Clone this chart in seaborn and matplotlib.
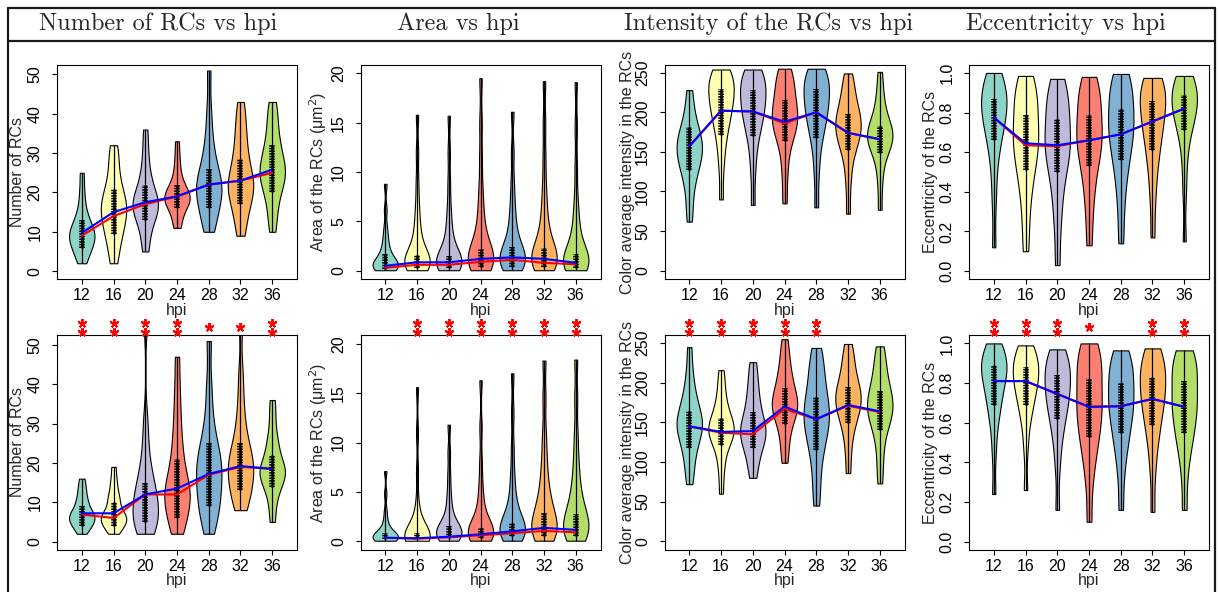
import numpy as np
import pandas as pd
import matplotlib
matplotlib.use("Agg")
import matplotlib.pyplot as plt
import matplotlib.transforms as mtransforms
from matplotlib.lines import Line2D
import seaborn as sns

hpi = ["12", "16", "20", "24", "28", "32", "36"]
set3 = ["#8DD3C7", "#FFFFB3", "#BEBADA", "#FB8072", "#80B1D3", "#FDB462", "#B3DE69"]

# ---------------------------
# Top row: values (roughly quantile-spaced)
# ---------------------------
count_top = [
    [2, 3.5, 5, 6, 7, 7.5, 8.5, 9, 9.5, 10, 11, 12, 13, 14.5, 17, 20.5, 25],
    [2, 5, 8, 9.5, 11, 12.5, 14, 15, 16, 17, 18, 19.5, 21, 23, 26, 29, 32],
    [5, 8, 11, 13, 14, 15, 16, 17, 17.5, 18, 19, 20.5, 22, 24, 27, 31, 36],
    [11, 12.5, 14.5, 16, 17, 17.5, 18, 18.5, 19, 19.5, 20, 21, 22, 23.5, 26, 29, 33],
    [10, 12, 14, 16, 18, 19, 20, 21, 22, 23, 24, 26, 28, 31, 35, 41, 51],
    [9, 12, 15, 17, 18.5, 20, 21, 22.5, 23, 24, 26, 28.5, 30, 33, 36, 39, 43],
    [10, 14, 17, 20, 21.5, 23, 24, 25, 26, 27, 28.5, 30, 32, 34, 37, 40, 43],
]
count_top_q1 = [6, 9.5, 13, 16, 16, 17, 20]
count_top_q3 = [13, 21, 22, 22, 26, 28.5, 32]
count_top_median = [9, 14, 17, 19, 22, 23, 25]
count_top_mean = [9.7, 15, 17.5, 19, 22, 23, 25.8]

area_top = [
    [0.05, 0.1, 0.2, 0.3, 0.4, 0.5, 0.6, 0.75, 0.9, 1.1, 1.3, 1.7, 2.1, 2.7, 3.4, 4.4, 6.2, 8.8],
    [0.05, 0.15, 0.3, 0.45, 0.6, 0.75, 0.9, 1.05, 1.2, 1.4, 1.6, 2.0, 2.6, 3.3, 4.2, 5.3, 6.8, 9, 12, 15.8],
    [0.05, 0.15, 0.3, 0.45, 0.6, 0.75, 0.9, 1.0, 1.2, 1.35, 1.5, 1.9, 2.5, 3.2, 4.1, 5.2, 6.7, 9, 12, 15.7],
    [0.05, 0.2, 0.4, 0.6, 0.8, 1.0, 1.2, 1.45, 1.7, 1.95, 2.2, 2.7, 3.4, 4.3, 5.4, 6.8, 8.6, 11.5, 15, 19.5],
    [0.05, 0.2, 0.4, 0.6, 0.85, 1.1, 1.3, 1.55, 1.8, 2.1, 2.4, 2.9, 3.6, 4.5, 5.6, 7, 9, 12, 16.1],
    [0.05, 0.2, 0.4, 0.6, 0.8, 1.0, 1.25, 1.5, 1.75, 2.0, 2.3, 2.8, 3.5, 4.4, 5.5, 6.9, 8.8, 11.6, 15, 19.2],
    [0.05, 0.15, 0.3, 0.45, 0.6, 0.8, 0.95, 1.1, 1.3, 1.5, 1.7, 2.1, 2.8, 3.6, 4.6, 5.8, 7.5, 10.5, 14.5, 19.1],
]
area_top_q1 = [0.2, 0.3, 0.3, 0.4, 0.4, 0.4, 0.3]
area_top_q3 = [1.7, 1.6, 1.5, 2.2, 2.4, 2.3, 1.7]
area_top_median = [0.3, 0.6, 0.6, 0.9, 1.1, 0.8, 0.65]
area_top_mean = [0.5, 0.85, 0.85, 1.2, 1.35, 1.2, 0.8]

inten_top = [
    [62, 85, 105, 120, 127, 135, 142, 148, 153, 157, 162, 168, 175, 181, 192, 207, 228],
    [90, 130, 155, 171, 182, 192, 200, 206, 212, 218, 224, 230, 236, 241, 246, 250, 254],
    [83, 125, 152, 170, 180, 190, 197, 203, 209, 215, 222, 228, 234, 240, 245, 250, 254],
    [85, 120, 145, 164, 172, 179, 185, 191, 196, 201, 207, 215, 223, 232, 241, 249, 255],
    [80, 122, 150, 168, 179, 188, 196, 203, 209, 215, 222, 229, 235, 241, 246, 251, 255],
    [72, 110, 135, 152, 160, 167, 173, 178, 183, 188, 193, 198, 205, 214, 225, 237, 249],
    [77, 110, 132, 148, 155, 160, 164, 168, 171, 175, 179, 183, 190, 199, 212, 228, 251],
]
inten_top_q1 = [127, 171, 170, 164, 168, 152, 148]
inten_top_q3 = [181, 230, 228, 215, 229, 198, 183]
inten_top_median = [157, 202, 201, 186, 200, 174, 166]
inten_top_mean = [157, 202, 201, 188, 200, 174, 166]

ecc_top = [
    [0.12, 0.35, 0.5, 0.6, 0.66, 0.7, 0.74, 0.77, 0.8, 0.82, 0.85, 0.87, 0.89, 0.92, 0.95, 0.98, 1.0],
    [0.10, 0.25, 0.37, 0.45, 0.51, 0.56, 0.6, 0.64, 0.67, 0.7, 0.74, 0.79, 0.83, 0.87, 0.91, 0.95, 0.985],
    [0.03, 0.22, 0.34, 0.43, 0.5, 0.55, 0.59, 0.62, 0.65, 0.68, 0.72, 0.77, 0.81, 0.85, 0.89, 0.93, 0.97],
    [0.13, 0.28, 0.39, 0.47, 0.53, 0.58, 0.62, 0.65, 0.68, 0.71, 0.75, 0.79, 0.83, 0.87, 0.91, 0.95, 0.98],
    [0.14, 0.3, 0.42, 0.5, 0.56, 0.61, 0.65, 0.69, 0.72, 0.75, 0.78, 0.82, 0.86, 0.9, 0.94, 0.97, 0.995],
    [0.17, 0.35, 0.47, 0.55, 0.61, 0.66, 0.7, 0.74, 0.77, 0.8, 0.83, 0.86, 0.89, 0.92, 0.94, 0.96, 0.975],
    [0.15, 0.4, 0.55, 0.65, 0.71, 0.75, 0.78, 0.8, 0.82, 0.84, 0.87, 0.89, 0.91, 0.93, 0.95, 0.97, 0.985],
]
ecc_top_q1 = [0.66, 0.51, 0.50, 0.53, 0.56, 0.61, 0.71]
ecc_top_q3 = [0.87, 0.79, 0.77, 0.79, 0.82, 0.86, 0.89]
ecc_top_median = [0.775, 0.635, 0.63, 0.66, 0.69, 0.755, 0.82]
ecc_top_mean = [0.775, 0.645, 0.635, 0.66, 0.69, 0.755, 0.82]

# ---------------------------
# Bottom row
# ---------------------------
count_bot = [
    [2, 3, 4, 4.5, 5, 5.5, 6, 6.5, 7, 7.5, 8, 9, 10, 11, 12.5, 14, 16],
    [2, 3, 4, 4.5, 5, 5.5, 6, 6.5, 7, 7.5, 8.5, 10, 11, 12, 14, 16, 19],
    [2, 3, 4, 5, 6, 7, 8, 9.5, 11, 12, 13.5, 15, 17, 20, 25, 31, 56],
    [2, 4, 6, 8, 9.5, 11, 12, 13, 14, 16, 18, 21, 24, 28, 33, 39, 47],
    [2, 5, 8, 9, 11, 13, 15, 16.5, 18, 19.5, 21, 23, 25, 28, 33, 40, 51],
    [8, 10, 12, 13, 15, 16.5, 18, 19, 20, 21, 22.5, 25, 27, 31, 36, 43, 56],
    [5, 9, 12, 14, 15, 16, 17, 18, 18.5, 19, 20, 22, 23.5, 25.5, 28, 32, 36],
]
count_bot_q1 = [4, 4, 5, 6, 9, 13, 14]
count_bot_q3 = [9, 10, 15, 21, 25, 25, 22]
count_bot_median = [6.9, 6, 12, 12, 17, 19, 18.5]
count_bot_mean = [7.2, 7.2, 12, 13.5, 17.2, 19.2, 18.5]

area_bot = [
    [0.05, 0.1, 0.15, 0.2, 0.3, 0.35, 0.4, 0.5, 0.55, 0.65, 0.8, 0.95, 1.2, 1.6, 2.2, 3.1, 4.8, 7.1],
    [0.05, 0.1, 0.15, 0.2, 0.25, 0.3, 0.35, 0.45, 0.55, 0.65, 0.8, 1.0, 1.3, 1.8, 2.6, 4, 7, 11, 15.6],
    [0.05, 0.15, 0.3, 0.45, 0.6, 0.75, 0.9, 1.05, 1.2, 1.35, 1.5, 1.8, 2.3, 3.0, 3.9, 5.1, 6.8, 9, 11.8],
    [0.05, 0.15, 0.3, 0.45, 0.6, 0.75, 0.9, 1.0, 1.15, 1.3, 1.55, 1.9, 2.5, 3.3, 4.4, 5.8, 8, 11.5, 16.3],
    [0.05, 0.25, 0.5, 0.7, 0.9, 1.05, 1.2, 1.4, 1.6, 1.8, 2.1, 2.6, 3.3, 4.2, 5.4, 7, 9.5, 13, 17],
    [0.05, 0.25, 0.5, 0.8, 1.1, 1.4, 1.7, 2.0, 2.4, 2.9, 3.4, 4.0, 4.8, 5.8, 7.1, 8.8, 11, 14.5, 18.3],
    [0.05, 0.25, 0.5, 0.8, 1.1, 1.4, 1.7, 2.0, 2.4, 2.8, 3.3, 3.9, 4.7, 5.7, 7, 8.7, 11, 14.5, 18.4],
]
area_bot_q1 = [0.2, 0.2, 0.3, 0.3, 0.5, 0.5, 0.5]
area_bot_q3 = [0.8, 0.8, 1.5, 1.3, 1.8, 2.9, 2.8]
area_bot_median = [0.35, 0.25, 0.4, 0.6, 0.8, 1.05, 0.9]
area_bot_mean = [0.35, 0.3, 0.45, 0.7, 1.0, 1.35, 1.15]

inten_bot = [
    [72, 90, 105, 118, 127, 134, 140, 145, 149, 153, 158, 165, 173, 183, 196, 215, 245],
    [60, 88, 105, 121, 127, 132, 136, 139, 142, 146, 150, 155, 162, 171, 183, 198, 216],
    [80, 95, 108, 118, 124, 130, 135, 139, 143, 148, 155, 163, 172, 183, 195, 210, 226],
    [99, 118, 134, 148, 156, 162, 167, 171, 175, 180, 186, 193, 201, 211, 222, 237, 255],
    [45, 72, 97, 115, 127, 137, 146, 153, 159, 165, 173, 182, 192, 204, 217, 231, 244],
    [86, 115, 135, 149, 157, 164, 170, 175, 180, 185, 190, 195, 203, 212, 223, 236, 249],
    [73, 100, 122, 140, 149, 156, 162, 167, 172, 177, 183, 189, 197, 207, 219, 232, 246],
]
inten_bot_q1 = [118, 121, 118, 148, 115, 149, 140]
inten_bot_q3 = [165, 155, 163, 193, 182, 195, 189]
inten_bot_median = [145, 137, 135, 167, 154, 171, 163]
inten_bot_mean = [145, 138, 139, 170, 154, 172, 164]

ecc_bot = [
    [0.24, 0.45, 0.58, 0.65, 0.69, 0.73, 0.77, 0.8, 0.83, 0.85, 0.87, 0.89, 0.91, 0.93, 0.95, 0.975, 1.0],
    [0.26, 0.47, 0.59, 0.65, 0.69, 0.73, 0.76, 0.79, 0.81, 0.83, 0.855, 0.88, 0.9, 0.92, 0.945, 0.97, 0.99],
    [0.16, 0.38, 0.5, 0.57, 0.62, 0.66, 0.7, 0.73, 0.75, 0.78, 0.81, 0.84, 0.87, 0.89, 0.92, 0.945, 0.97],
    [0.10, 0.3, 0.41, 0.48, 0.53, 0.58, 0.62, 0.66, 0.69, 0.73, 0.77, 0.82, 0.86, 0.9, 0.94, 0.97, 1.0],
    [0.16, 0.33, 0.44, 0.5, 0.55, 0.6, 0.64, 0.67, 0.7, 0.73, 0.76, 0.8, 0.84, 0.87, 0.9, 0.935, 0.965],
    [0.15, 0.35, 0.47, 0.54, 0.59, 0.64, 0.68, 0.71, 0.74, 0.77, 0.8, 0.83, 0.86, 0.89, 0.92, 0.95, 0.975],
    [0.16, 0.34, 0.45, 0.51, 0.55, 0.6, 0.64, 0.67, 0.7, 0.73, 0.77, 0.81, 0.85, 0.88, 0.91, 0.94, 0.965],
]
ecc_bot_q1 = [0.69, 0.69, 0.62, 0.53, 0.55, 0.59, 0.55]
ecc_bot_q3 = [0.89, 0.88, 0.84, 0.82, 0.80, 0.83, 0.81]
ecc_bot_median = [0.81, 0.81, 0.745, 0.68, 0.683, 0.72, 0.68]
ecc_bot_mean = [0.81, 0.81, 0.745, 0.68, 0.683, 0.72, 0.68]

# significance stars above the bottom panels (number of stars per hpi)
count_stars = [2, 2, 2, 2, 1, 1, 2]
area_stars = [0, 2, 2, 2, 2, 2, 2]
inten_stars = [2, 2, 2, 2, 2, 0, 0]
ecc_stars = [2, 2, 2, 1, 0, 2, 2]

titles = ["Number of RCs vs hpi", "Area vs hpi", "Intensity of the RCs vs hpi", "Eccentricity vs hpi"]

sns.set_style("ticks")
plt.rcParams["font.family"] = ["Liberation Sans", "DejaVu Sans"]
plt.rcParams["font.size"] = 11.5

W, H = 1219, 592
fig = plt.figure(figsize=(W / 100, H / 100), dpi=100)


def draw_panel(ax, samples, q1, q3, med, mean, ylim, yticks, yticklabels, ylabel, bw, ylab_x, stars=None):
    df = pd.DataFrame({
        "hpi": np.repeat(hpi, [len(s) for s in samples]),
        "value": np.concatenate(samples),
    })
    sns.violinplot(data=df, x="hpi", y="value", hue="hpi", order=hpi, hue_order=hpi,
                   palette=set3, saturation=1, cut=0, inner=None, density_norm="width",
                   width=0.8, bw_adjust=bw, linewidth=0.8, linecolor="black",
                   legend=False, ax=ax)
    pos = np.arange(len(hpi))
    ax.vlines(pos, [min(s) for s in samples], [max(s) for s in samples],
              color="black", lw=0.9, zorder=3)
    for i in pos:
        ax.plot([i, i], [q1[i], q3[i]], color="black", lw=4, ls=(0, (0.28, 0.2)),
                dash_capstyle="butt", zorder=4)
    ax.vlines(pos, q1, q3, color="black", lw=1.8, zorder=4)
    ax.plot(pos, med, color="red", lw=1.5, zorder=5)
    ax.plot(pos, mean, color="blue", lw=1.5, zorder=6)

    ax.set_xlim(-0.78, 6.78)
    ax.set_ylim(*ylim)
    ax.set_yticks(yticks)
    ax.set_yticklabels(yticklabels, rotation=90, va="center")
    ax.set_xticks(pos)
    ax.set_xticklabels(hpi)
    ax.tick_params(axis="y", length=3.5, width=0.8, pad=7, colors="black")
    ax.tick_params(axis="x", length=3.5, width=0.8, pad=3, colors="black")
    for sp in ax.spines.values():
        sp.set_color("black")
        sp.set_linewidth(0.8)
    ax.set_xlabel("hpi")
    ax.set_ylabel(ylabel)
    ax.xaxis.set_label_coords(0.5, -0.145)
    ax.xaxis.label.set_va("center")
    ax.yaxis.set_label_coords(ylab_x, 0.5)
    ax.yaxis.label.set_va("center")

    if stars is not None:
        trans = mtransforms.blended_transform_factory(ax.transData, ax.transAxes)
        for i, n in enumerate(stars):
            ys = {1: [1.041], 2: [1.018, 1.060]}.get(n, [])
            for y in ys:
                ax.plot(i, y, marker=(5, 2, 0), ms=6.5, mew=1.4, color="red",
                        transform=trans, clip_on=False, zorder=7)


lefts = [57, 360.5, 664.5, 969]
ylab_xs = [-0.1625, -0.176, -0.156, -0.1625]
rows = [(65, 279), (335.5, 549.5)]


def add_ax(col, row):
    top, bot = rows[row]
    return fig.add_axes([lefts[col] / W, 1 - bot / H, 240 / W, (bot - top) / H])


count_ticks = [0, 10, 20, 30, 40, 50]
area_ticks = [0, 5, 10, 15, 20]
inten_ticks = [0, 50, 100, 150, 200, 250]
ecc_ticks = [0, 0.2, 0.4, 0.6, 0.8, 1.0]
ecc_labels = ["0.0", "0.2", "0.4", "0.6", "0.8", "1.0"]

count_lab = "Number of RCs"
area_lab = "Area of the RCs (\u03bcm$^2$)"
inten_lab = "Color average intensity in the RCs"
ecc_lab = "Eccentricity of the RCs"

# top row
draw_panel(add_ax(0, 0), count_top, count_top_q1, count_top_q3, count_top_median, count_top_mean,
           (-2.0, 52.4), count_ticks, count_ticks, count_lab, 0.7, ylab_xs[0])
draw_panel(add_ax(1, 0), area_top, area_top_q1, area_top_q3, area_top_median, area_top_mean,
           (-0.84, 20.84), area_ticks, area_ticks, area_lab, 0.5, ylab_xs[1])
draw_panel(add_ax(2, 0), inten_top, inten_top_q1, inten_top_q3, inten_top_median, inten_top_mean,
           (-10.5, 259.7), inten_ticks, inten_ticks, inten_lab, 0.7, ylab_xs[2])
draw_panel(add_ax(3, 0), ecc_top, ecc_top_q1, ecc_top_q3, ecc_top_median, ecc_top_mean,
           (-0.04, 1.04), ecc_ticks, ecc_labels, ecc_lab, 0.7, ylab_xs[3])

# bottom row
draw_panel(add_ax(0, 1), count_bot, count_bot_q1, count_bot_q3, count_bot_median, count_bot_mean,
           (-2.0, 52.4), count_ticks, count_ticks, count_lab, 0.6, ylab_xs[0], count_stars)
draw_panel(add_ax(1, 1), area_bot, area_bot_q1, area_bot_q3, area_bot_median, area_bot_mean,
           (-0.84, 20.84), area_ticks, area_ticks, area_lab, 0.5, ylab_xs[1], area_stars)
draw_panel(add_ax(2, 1), inten_bot, inten_bot_q1, inten_bot_q3, inten_bot_median, inten_bot_mean,
           (-10.5, 259.7), inten_ticks, inten_ticks, inten_lab, 0.7, ylab_xs[2], inten_stars)
draw_panel(add_ax(3, 1), ecc_bot, ecc_bot_q1, ecc_bot_q3, ecc_bot_median, ecc_bot_mean,
           (-0.04, 1.04), ecc_ticks, ecc_labels, ecc_lab, 0.7, ylab_xs[3], ecc_stars)

# header band with column titles
title_x = [158, 458, 768, 1066]
for x, t in zip(title_x, titles):
    fig.text(x / W, 1 - 24 / H, t, ha="center", va="center", fontsize=17.5, family="cmr10")

frame = dict(color="#1a1a1a", lw=1.6, transform=fig.transFigure)
fig.add_artist(Line2D([8 / W, 1215 / W], [1 - 8 / H, 1 - 8 / H], **frame))
fig.add_artist(Line2D([8 / W, 1215 / W], [1 - 41 / H, 1 - 41 / H], **frame))
fig.add_artist(Line2D([8 / W, 8 / W], [0, 1 - 8 / H], **frame))
fig.add_artist(Line2D([1215 / W, 1215 / W], [0, 1 - 8 / H], **frame))

fig.savefig("out.png", dpi=100)
